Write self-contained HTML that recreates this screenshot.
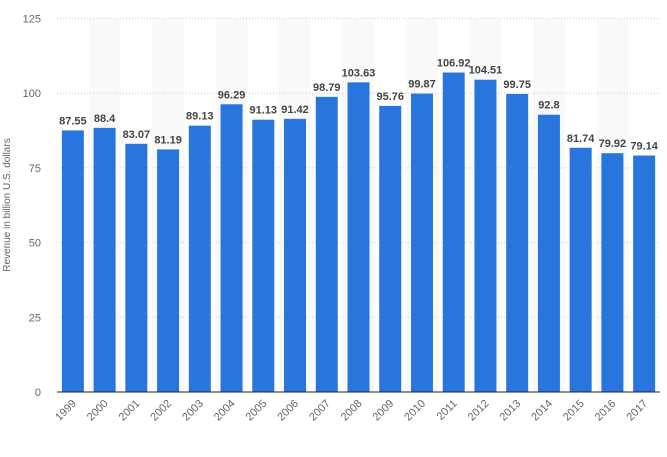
<!DOCTYPE html>
<html><head><meta charset="utf-8"><style>
body{margin:0;background:#fff;width:667px;height:452px;overflow:hidden;font-family:"Liberation Sans",sans-serif}
</style></head><body>
<svg id="chart" width="667" height="452" xmlns="http://www.w3.org/2000/svg">
<g id="stripes"></g><g id="grid"></g><g id="bars"></g><g id="labels"></g><g id="xt"></g><g id="yt"></g>
<line x1="57" x2="660" y1="392" y2="392" stroke="#222" stroke-width="1"/>
<text transform="translate(10,205) rotate(-90)" text-anchor="middle" font-size="10" fill="#666">Revenue in billion U.S. dollars</text>
</svg>
<script>
const categories=["1999","2000","2001","2002","2003","2004","2005","2006","2007","2008","2009","2010","2011","2012","2013","2014","2015","2016","2017"];
const values=[87.55,88.4,83.07,81.19,89.13,96.29,91.13,91.42,98.79,103.63,95.76,99.87,106.92,104.51,99.75,92.8,81.74,79.92,79.14];
const valueLabels=["87.55","88.4","83.07","81.19","89.13","96.29","91.13","91.42","98.79","103.63","95.76","99.87","106.92","104.51","99.75","92.8","81.74","79.92","79.14"];
const yTicks=[0,25,50,75,100,125];
const NS="http://www.w3.org/2000/svg";
const L=57,R=660,T=18.5,B=392,YMAX=125;
const colW=(R-L)/categories.length;
const y=v=>B-(v/YMAX)*(B-T);
const x=i=>L+i*colW;
function mk(tag,attrs,parent,txt){const e=document.createElementNS(NS,tag);for(const k in attrs)e.setAttribute(k,attrs[k]);if(txt!==undefined)e.textContent=txt;document.getElementById(parent).appendChild(e);return e;}
categories.forEach((c,i)=>{
 if(i%2===1){const s=mk('rect',{x:x(i),y:T,width:colW,height:B-T,fill:'#f9f9f9'},'stripes');
 
 }
});
yTicks.forEach(t=>{
 if(t>0){const g=mk('line',{x1:L,x2:R,y1:y(t),y2:y(t),stroke:'#ccc','stroke-dasharray':'1,2'},'grid');
 
 }
 const tl=mk('text',{x:41,y:y(t)+4,'text-anchor':'end','font-size':11,fill:'#666'},'yt',String(t));
 
 
});
categories.forEach((c,i)=>{
 const bx=x(i)+(colW-22)/2;
 const b=mk('rect',{x:bx,y:y(values[i]),width:22,height:B-y(values[i]),fill:'#2876dd'},'bars');
 
 
 const lb=mk('text',{x:bx+11,y:y(values[i])-6,'text-anchor':'middle','font-size':11,'font-weight':'bold',fill:'#444'},'labels',valueLabels[i]);
 
 
 const cx=bx+11+4,cy=404;
 const xl=mk('text',{x:cx,y:cy,'text-anchor':'end','font-size':11,fill:'#666',transform:`rotate(-45 ${cx} ${cy})`},'xt',c);
 
 
});
</script>
</body></html>
